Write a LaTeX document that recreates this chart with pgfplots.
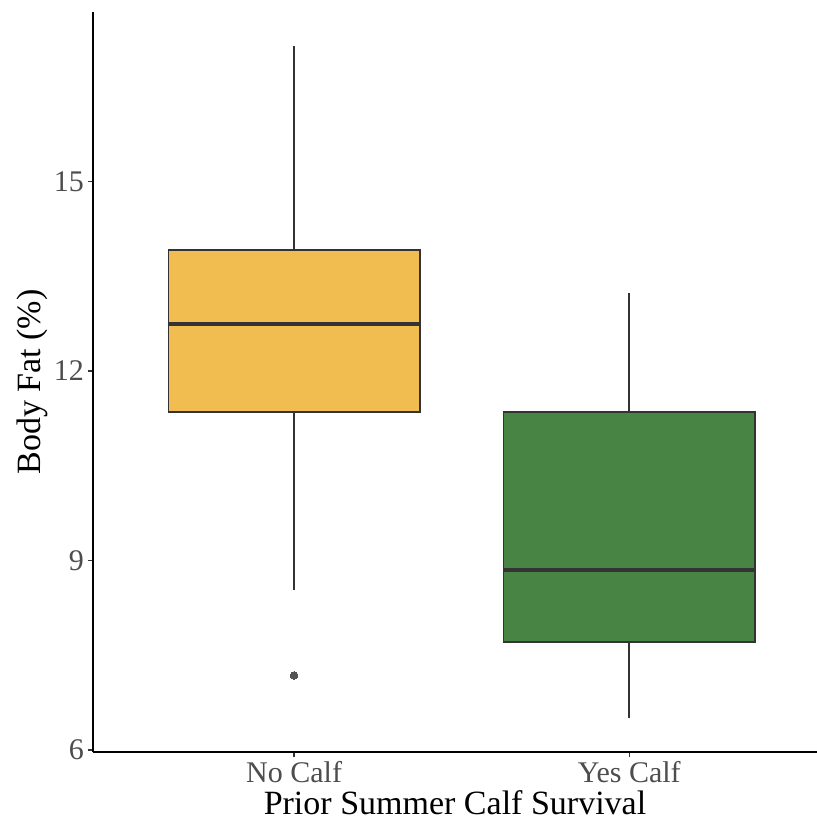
\documentclass[border=0pt]{standalone}
\usepackage{fontspec}
\setmainfont{Liberation Serif}
\usepackage{pgfplots}
\pgfplotsset{compat=1.18}
\usepgfplotslibrary{statistics}
\definecolor{boxline}{HTML}{333333}
\definecolor{ticklab}{HTML}{4D4D4D}
\definecolor{yellowc}{HTML}{F1BD50}
\definecolor{greenc}{HTML}{488545}
\definecolor{outc}{HTML}{555555}
\begin{document}
\begin{tikzpicture}
\useasboundingbox (-93bp,-69bp) rectangle (724bp,752bp);
\begin{axis}[
  scale only axis,
  width=724bp, height=740bp,
  at={(0,0)}, anchor=south west,
  xmin=0.4, xmax=2.56,
  ymin=5.9675, ymax=17.6825,
  boxplot/draw direction=y,
  axis x line*=bottom, axis y line*=left,
  axis line style={-, black, line width=1.8bp},
  xtick={1,2}, xticklabels={No Calf, Yes Calf},
  ytick={6,9,12,15},
  tick align=outside,
  major tick length=5bp,
  every tick/.style={boxline, line width=1.6bp},
  /pgf/number format/assume math mode=true,
  ticklabel style={font=\fontsize{30bp}{36bp}\selectfont, text=ticklab, inner sep=0pt},
  xticklabel style={anchor=base, yshift=-25bp},
  yticklabel style={anchor=east, xshift=-4bp},
  xlabel={Prior Summer Calf Survival},
  ylabel={Body Fat (\%)},
  label style={font=\fontsize{34bp}{40bp}\selectfont, text=black, inner sep=0pt},
  xlabel style={at={(axis description cs:0.5,-0.0851)}, anchor=base},
  ylabel style={at={(axis description cs:-0.073,0.5)}, anchor=base, rotate=0},
  clip=false,
]
\addplot[draw=boxline, fill=yellowc, line width=1.7bp,
  boxplot prepared={draw position=1, lower whisker=8.53, lower quartile=11.345,
    median=12.75, upper quartile=13.92, upper whisker=17.15,
    box extend=0.75, whisker extend=0,
    every median/.style={line width=4bp}}]
  coordinates {};
\addplot[draw=boxline, fill=greenc, line width=1.7bp,
  boxplot prepared={draw position=2, lower whisker=6.50, lower quartile=7.71,
    median=8.845, upper quartile=11.345, upper whisker=13.23,
    box extend=0.75, whisker extend=0,
    every median/.style={line width=4bp}}]
  coordinates {};
% outlier
\addplot[only marks, mark=*, mark size=3.8bp, draw=outc, fill=outc, line width=0pt]
  coordinates {(1,7.18)};
\end{axis}
\end{tikzpicture}
\end{document}
